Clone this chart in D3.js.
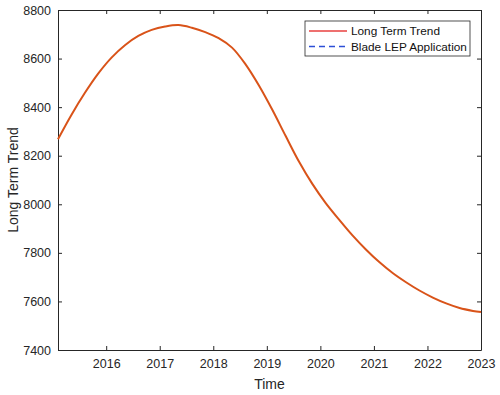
<!DOCTYPE html>
<html>
<head>
<meta charset="utf-8">
<script src="https://cdn.jsdelivr.net/npm/d3@7"></script>
<style>
  body { margin: 0; background: #fff; }
  text { font-family: Helvetica, Arial, "Liberation Sans", sans-serif; }
</style>
</head>
<body>
<div id="chart"></div>
<script>
// data
const years = [2015.1, 2015.35, 2015.6, 2015.85, 2016.1, 2016.35, 2016.6, 2016.85,
  2017.1, 2017.35, 2017.6, 2017.85, 2018.1, 2018.35, 2018.6, 2018.85,
  2019.1, 2019.35, 2019.6, 2019.85, 2020.1, 2020.35, 2020.6, 2020.85,
  2021.1, 2021.35, 2021.6, 2021.85, 2022.1, 2022.35, 2022.6, 2022.85, 2023.0];
const trend = [8268, 8368, 8458, 8538, 8604, 8655, 8693, 8718,
  8732, 8738, 8727, 8709, 8684, 8645, 8577, 8490,
  8390, 8282, 8176, 8084, 8005, 7937, 7872, 7814,
  7762, 7717, 7679, 7645, 7616, 7592, 7573, 7561, 7556];
const xTicks = [2016, 2017, 2018, 2019, 2020, 2021, 2022, 2023];
const yTicks = [7400, 7600, 7800, 8000, 8200, 8400, 8600, 8800];
const legendItems = ['Long Term Trend', 'Blade LEP Application'];

const margin = { top: 10, right: 19, bottom: 45, left: 58 };
const width = 500 - margin.left - margin.right;
const height = 395 - margin.top - margin.bottom;

const svg = d3.select('#chart')
  .append('svg')
  .attr('width', 500)
  .attr('height', 395);

const g = svg.append('g')
  .attr('transform', `translate(${margin.left},${margin.top})`);

const x = d3.scaleLinear().domain([2015.1, 2023]).range([0, width]);
const y = d3.scaleLinear().domain([7400, 8800]).range([height, 0]);

const axisColor = '#262626';
const tickLen = 4;

// axes (matlab style, ticks inward, box on)
const styleAxis = (sel) => {
  sel.select('.domain').attr('stroke', axisColor).attr('stroke-width', 1);
  sel.selectAll('.tick line').attr('stroke', axisColor);
  sel.selectAll('.tick text')
    .attr('fill', axisColor)
    .style('font-size', '12.5px');
};

g.append('g')
  .attr('transform', `translate(0,${height})`)
  .call(d3.axisBottom(x).tickValues(xTicks).tickFormat(d3.format('d'))
    .tickSizeInner(-tickLen).tickSizeOuter(0).tickPadding(9))
  .call(styleAxis);

g.append('g')
  .call(d3.axisTop(x).tickValues(xTicks).tickFormat('')
    .tickSizeInner(-tickLen).tickSizeOuter(0))
  .call(styleAxis);

g.append('g')
  .call(d3.axisLeft(y).tickValues(yTicks).tickFormat(d3.format('d'))
    .tickSizeInner(-tickLen).tickSizeOuter(0).tickPadding(7))
  .call(styleAxis);

g.append('g')
  .attr('transform', `translate(${width},0)`)
  .call(d3.axisRight(y).tickValues(yTicks).tickFormat('')
    .tickSizeInner(-tickLen).tickSizeOuter(0))
  .call(styleAxis);

// line
const line = d3.line()
  .x((d, i) => x(years[i]))
  .y((d) => y(d))
  .curve(d3.curveCatmullRom.alpha(0.5));

g.append('path')
  .datum(trend)
  .attr('fill', 'none')
  .attr('stroke', '#d95319')
  .attr('stroke-width', 2)
  .attr('d', line);

// axis labels
svg.append('text')
  .attr('x', margin.left + width / 2)
  .attr('y', 389)
  .attr('text-anchor', 'middle')
  .attr('fill', axisColor)
  .style('font-size', '14px')
  .text('Time');

svg.append('text')
  .attr('transform', `translate(18,${margin.top + height / 2}) rotate(-90)`)
  .attr('text-anchor', 'middle')
  .attr('fill', axisColor)
  .style('font-size', '14px')
  .text('Long Term Trend');

// legend
const legend = svg.append('g').attr('transform', 'translate(305,21)');
legend.append('rect')
  .attr('width', 165)
  .attr('height', 35)
  .attr('fill', '#fff')
  .attr('stroke', '#262626')
  .attr('stroke-width', 0.8);

legendItems.forEach((name, i) => {
  const ly = 10 + i * 15.5;
  legend.append('line')
    .attr('x1', 4).attr('x2', 42)
    .attr('y1', ly).attr('y2', ly)
    .attr('stroke', i === 0 ? '#e8403f' : '#2d4fd6')
    .attr('stroke-width', 1.5)
    .attr('stroke-dasharray', i === 0 ? null : '6,4');
  legend.append('text')
    .attr('x', 46)
    .attr('y', ly + 4)
    .attr('fill', '#111')
    .style('font-size', '11.8px')
    .text(name);
});
</script>
</body>
</html>
